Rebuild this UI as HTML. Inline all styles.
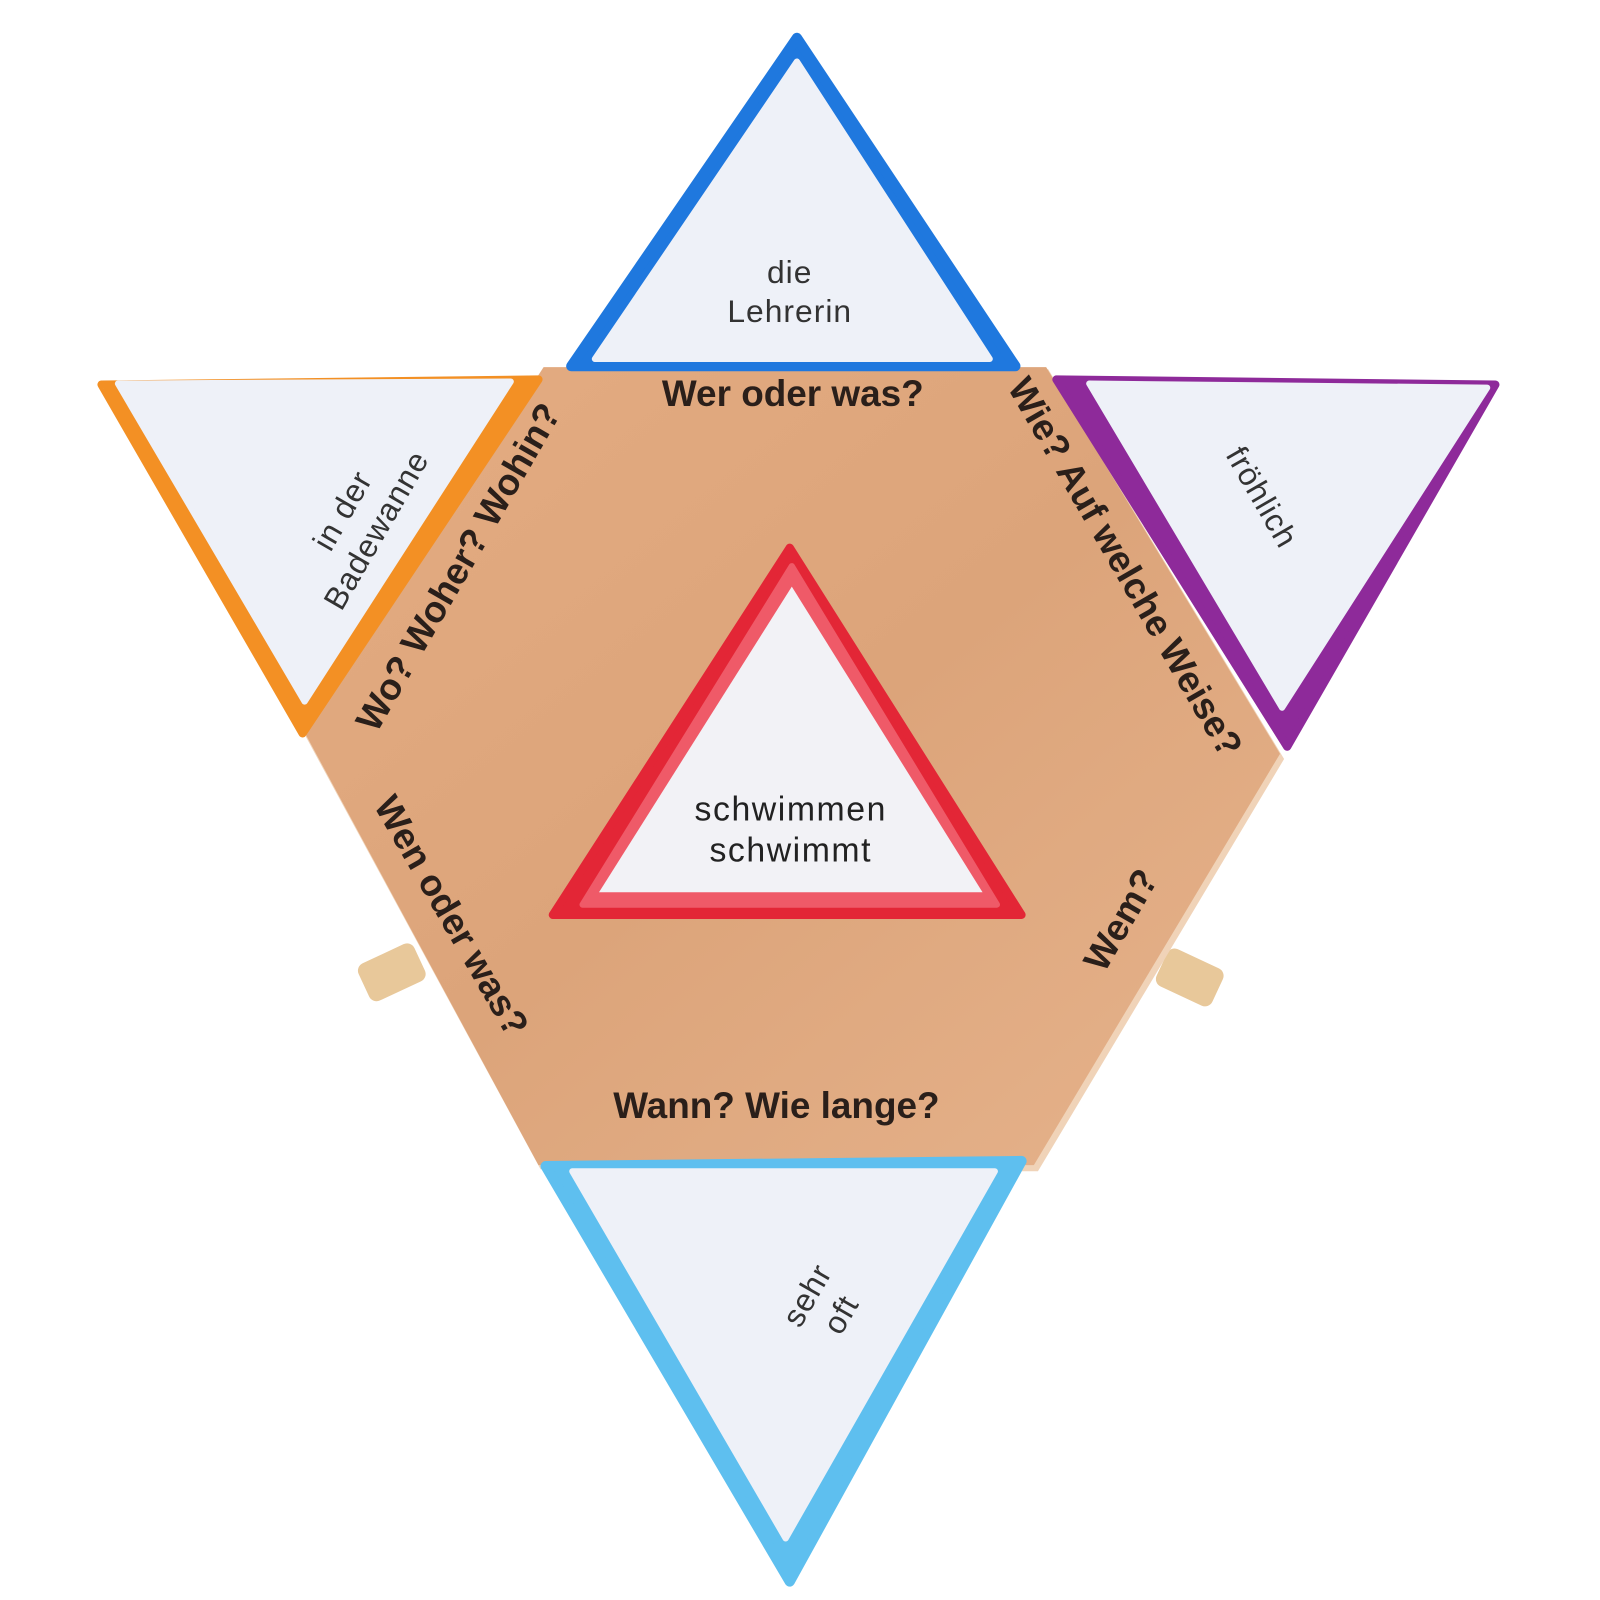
<!DOCTYPE html>
<html><head><meta charset="utf-8"><style>
html,body{margin:0;padding:0;background:#fff;}
svg{display:block;}
text{font-family:"Liberation Sans",sans-serif;}
.q{font-weight:bold;fill:#2a1f1a;font-size:36px;}
.c{fill:#333;font-size:31px;letter-spacing:1px;}
</style></head><body>
<svg width="1600" height="1600" viewBox="0 0 1560 1560" xmlns="http://www.w3.org/2000/svg">
<defs>
<linearGradient id="w" x1="0" y1="0" x2="1" y2="1">
<stop offset="0" stop-color="#e4ac82"/><stop offset="0.5" stop-color="#dca47a"/><stop offset="1" stop-color="#e6b38c"/>
</linearGradient>
</defs>
<rect width="1560" height="1560" fill="#fff"/>
<rect x="352" y="928" width="60" height="40" rx="8" fill="#e8c89a" transform="rotate(-25 382 948)"/>
<rect x="1130" y="933" width="60" height="40" rx="8" fill="#e8c89a" transform="rotate(25 1160 953)"/>
<polygon points="532,360 1022,360 1252,740 1012,1142 527,1140 298,718" fill="#f0d3b8"/>
<polygon points="530,358 1020,358 1248,735 1008,1136 525,1136 298,716" fill="url(#w)"/>
<polygon points="777,37 557,357 990,357" fill="#1f78de" stroke="#1f78de" stroke-width="10" stroke-linejoin="round"/>
<polygon points="777,60 580,350 965,350" fill="#eef1f8" stroke="#eef1f8" stroke-width="6" stroke-linejoin="round"/>
<text class="c" x="770" y="276" text-anchor="middle">die</text>
<text class="c" x="770" y="314" text-anchor="middle">Lehrerin</text>
<polygon points="99,375 525,370 295,715" fill="#f39024" stroke="#f39024" stroke-width="8" stroke-linejoin="round"/>
<polygon points="115,374 498,372 297,684" fill="#eef1f8" stroke="#eef1f8" stroke-width="6" stroke-linejoin="round"/>
<g transform="translate(350,507) rotate(-60)" class="c"><text x="0" y="-8" text-anchor="middle">in der</text><text x="0" y="30" text-anchor="middle">Badewanne</text></g>
<polygon points="1030,370 1458,375 1255,728" fill="#8e2a9a" stroke="#8e2a9a" stroke-width="8" stroke-linejoin="round"/>
<polygon points="1062,374 1450,378 1250,690" fill="#eef1f8" stroke="#eef1f8" stroke-width="6" stroke-linejoin="round"/>
<g transform="translate(1230,485) rotate(60)" class="c"><text x="0" y="10" text-anchor="middle">fröhlich</text></g>
<polygon points="532,1137 996,1132 770,1542" fill="#5ebfef" stroke="#5ebfef" stroke-width="10" stroke-linejoin="round"/>
<polygon points="558,1142 970,1142 766,1500" fill="#eef1f8" stroke="#eef1f8" stroke-width="6" stroke-linejoin="round"/>
<g transform="translate(803,1272) rotate(-60)" class="c"><text x="0" y="-8" text-anchor="middle">sehr</text><text x="0" y="30" text-anchor="middle">oft</text></g>
<polygon points="770,534 539,892 996,892" fill="#e32636" stroke="#e32636" stroke-width="8" stroke-linejoin="round"/>
<polygon points="772,552 568,882 972,882" fill="#ef5a68" stroke="#ef5a68" stroke-width="6" stroke-linejoin="round"/>
<polygon points="772,572 584,870 958,870" fill="#f2f2f6"/>
<text x="771" y="800" text-anchor="middle" fill="#222" font-size="33" letter-spacing="1.5">schwimmen</text>
<text x="771" y="840" text-anchor="middle" fill="#222" font-size="33" letter-spacing="1.5">schwimmt</text>
<text class="q" x="773" y="396" text-anchor="middle" font-size="37">Wer oder was?</text>
<text class="q" x="757" y="1090" text-anchor="middle" font-size="42">Wann? Wie lange?</text>
<g transform="translate(447,553) rotate(-60)"><text class="q" x="0" y="12" text-anchor="middle">Wo? Woher? Wohin?</text></g>
<g transform="translate(1097,553) rotate(60)"><text class="q" x="0" y="12" text-anchor="middle">Wie? Auf welche Weise?</text></g>
<g transform="translate(440,893) rotate(60)"><text class="q" x="0" y="12" text-anchor="middle">Wen oder was?</text></g>
<g transform="translate(1093,897) rotate(-60)"><text class="q" x="0" y="12" text-anchor="middle">Wem?</text></g>
</svg>
</body></html>
